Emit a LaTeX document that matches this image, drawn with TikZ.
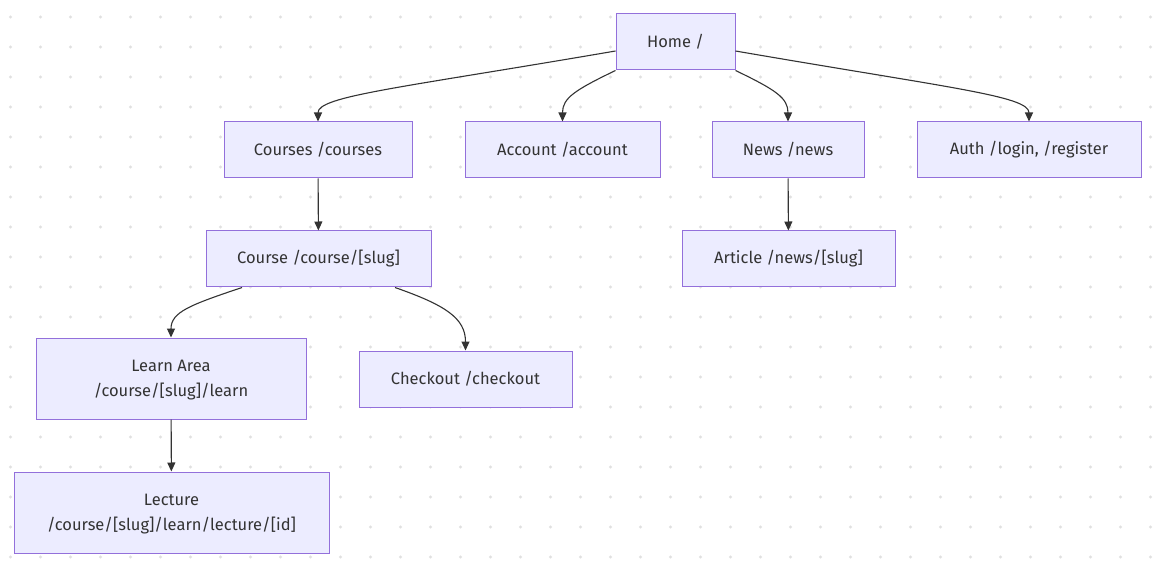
\documentclass[tikz,border=0pt]{standalone}
\usepackage{fontspec}
\setmainfont{Fira Sans}
\usetikzlibrary{arrows.meta}
\definecolor{nodefill}{HTML}{ECECFF}
\definecolor{nodeline}{HTML}{9370DB}
\definecolor{edgecol}{HTML}{333333}
\definecolor{dotcol}{HTML}{E0E0E0}
\tikzset{
  pg/.style={x=1pt,y=-1pt},
  box/.style={draw=nodeline,fill=nodefill,line width=1pt,text=edgecol,
    font=\fontsize{16.5}{25}\selectfont,align=center,inner sep=0pt},
  twoline/.style={text depth=0pt},
  link/.style={draw=edgecol,line width=1.1pt,-{Triangle[length=9pt,width=8pt]}},
}
\newcommand{\bx}[7][]{% opts, name, x1,y1,x2,y2, text
  \node[box,#1,minimum width={#5-#3},minimum height={#6-#4}] (#2) at ({(#3+#5)/2},{(#4+#6)/2}) {#7};}
\begin{document}
\begin{tikzpicture}[pg]
\useasboundingbox (0,0) rectangle (1156,569);
\fill[white] (0,0) rectangle (1156,569);
\foreach \i in {0,...,38}{\foreach \j in {0,...,18}{
  \fill[dotcol] ({10.5+30*\i},{17+30*\j}) circle (1.6);}}
\bx{home}{616}{14}{735}{70}{Home /}
\bx{courses}{224}{122}{412}{178}{Courses /courses}
\bx{account}{465}{122}{660}{178}{Account /account}
\bx{news}{712}{122}{864}{178}{News /news}
\bx{auth}{917}{122}{1141}{178}{Auth /login, /register}
\bx{course}{206}{231}{431}{287}{Course /course/[slug]}
\bx{article}{682}{231}{895}{287}{Article /news/[slug]}
\bx[twoline]{learn}{36}{338}{306}{419}{Learn Area\\/course/[slug]/learn}
\bx{checkout}{359}{351}{572}{407}{Checkout /checkout}
\bx[twoline]{lecture}{14}{472}{329}{553}{Lecture\\/course/[slug]/learn/lecture/[id]}
\draw[link] ([yshift=-9pt]home.west) .. controls (400,88) and (318,96) .. (courses.north);
\draw[link] (home.south west) .. controls (575,90) and (562.5,98) .. (account.north);
\draw[link] (home.south east) .. controls (776,90) and (788,98) .. (news.north);
\draw[link] ([yshift=-9pt]home.east) .. controls (950,88) and (1029,96) .. (auth.north);
\draw[link] (courses) -- (course);
\draw[link] (news) -- (article);
\draw[link] ([xshift=-76.5pt]course.south) .. controls (190,305) and (171,312) .. (learn.north);
\draw[link] ([xshift=76.5pt]course.south) .. controls (445,305) and (465.5,318) .. (checkout.north);
\draw[link] (learn) -- (lecture);
\end{tikzpicture}
\end{document}
